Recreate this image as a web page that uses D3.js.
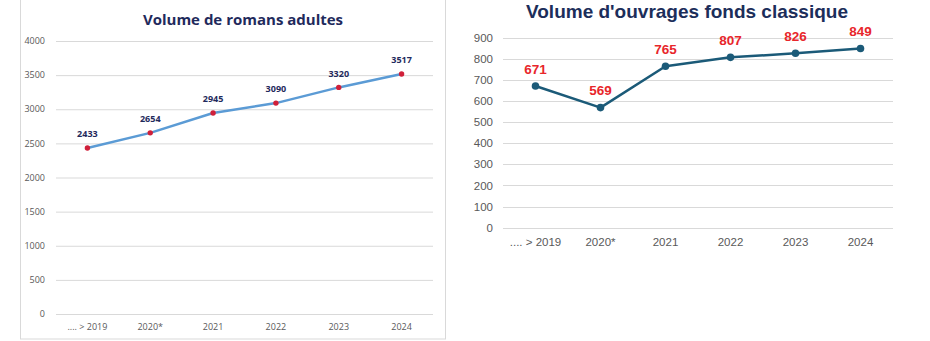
<!DOCTYPE html>
<html><head><meta charset="utf-8">
<script src="https://cdn.jsdelivr.net/npm/d3@7"></script>
<style>body{margin:0;background:#fff}svg{display:block}</style>
</head><body>
<svg id="c" width="930" height="341"></svg>
<script>
const categories = [".... > 2019", "2020*", "2021", "2022", "2023", "2024"];
const romansValues = [2433, 2654, 2945, 3090, 3320, 3517];
const classiqueValues = [671, 569, 765, 807, 826, 849];
const romansTicks = [0, 500, 1000, 1500, 2000, 2500, 3000, 3500, 4000];
const classiqueTicks = [0, 100, 200, 300, 400, 500, 600, 700, 800, 900];
const romansTitle = "Volume de romans adultes";
const classiqueTitle = "Volume d'ouvrages fonds classique";

const svg = d3.select("#c");

// ---------- Left chart ----------
svg.append("rect").attr("x", 20.5).attr("y", -1).attr("width", 425).attr("height", 340)
  .attr("fill", "#fff").attr("stroke", "#d9d9d9");

const L = {x0: 56, x1: 433, y0: 314, y1: 41};
const xL = d3.scalePoint().domain(categories).range([L.x0, L.x1]).padding(0.5);
const yL = d3.scaleLinear().domain([0, 4000]).range([L.y0, L.y1]);
const gL = svg.append("g");

gL.append("g").selectAll("line").data(romansTicks).join("line")
  .attr("x1", L.x0).attr("x2", L.x1).attr("y1", d => yL(d) + 0.5).attr("y2", d => yL(d) + 0.5)
  .attr("stroke", "#d9d9d9").attr("stroke-width", 1);
gL.append("g").selectAll("text").data(romansTicks).join("text")
  .attr("x", 45).attr("y", d => yL(d)).attr("dy", "0.35em").attr("text-anchor", "end")
  .attr("font-family", "'Open Sans', sans-serif").attr("font-size", 9).attr("fill", "#595959")
  .text(d => d);
gL.append("g").selectAll("text").data(categories).join("text")
  .attr("x", d => xL(d)).attr("y", 327).attr("dy", "0.35em").attr("text-anchor", "middle")
  .attr("font-family", "'Open Sans', sans-serif").attr("font-size", 9).attr("fill", "#595959")
  .text(d => d);
gL.append("text").attr("x", 243).attr("y", 20).attr("dy", "0.35em").attr("text-anchor", "middle")
  .attr("font-family", "'Open Sans', sans-serif").attr("font-weight", "bold").attr("font-size", 15)
  .attr("fill", "#1f2a5c").text(romansTitle);
gL.append("path").datum(romansValues)
  .attr("d", d3.line().x((d, i) => xL(categories[i])).y(d => yL(d)))
  .attr("fill", "none").attr("stroke", "#5b9bd5").attr("stroke-width", 2.5).attr("stroke-linejoin", "round");
gL.append("g").selectAll("circle").data(romansValues).join("circle")
  .attr("cx", (d, i) => xL(categories[i])).attr("cy", d => yL(d)).attr("r", 2.7)
  .attr("fill", "#d0203a");
gL.append("g").selectAll("text").data(romansValues).join("text")
  .attr("x", (d, i) => xL(categories[i])).attr("y", d => yL(d) - 14).attr("dy", "0.35em")
  .attr("text-anchor", "middle").attr("font-family", "'Open Sans', sans-serif")
  .attr("font-weight", "bold").attr("font-size", 9).attr("fill", "#1f2a5c").text(d => d);

// ---------- Right chart ----------
const R = {x0: 503, x1: 893, y0: 227.7, y1: 37.7};
const xR = d3.scalePoint().domain(categories).range([R.x0, R.x1]).padding(0.5);
const yR = d3.scaleLinear().domain([0, 900]).range([R.y0, R.y1]);
const gR = svg.append("g");

gR.append("g").selectAll("line").data(classiqueTicks).join("line")
  .attr("x1", R.x0).attr("x2", R.x1).attr("y1", d => Math.round(yR(d)) + 0.5).attr("y2", d => Math.round(yR(d)) + 0.5)
  .attr("stroke", "#d9d9d9").attr("stroke-width", 1);
gR.append("g").selectAll("text").data(classiqueTicks).join("text")
  .attr("x", 493).attr("y", d => yR(d)).attr("dy", "0.35em").attr("text-anchor", "end")
  .attr("font-family", "'Liberation Sans', Arial, sans-serif").attr("font-size", 11.5).attr("fill", "#595959")
  .text(d => d);
gR.append("g").selectAll("text").data(categories).join("text")
  .attr("x", d => xR(d)).attr("y", 242).attr("dy", "0.35em").attr("text-anchor", "middle")
  .attr("font-family", "'Liberation Sans', Arial, sans-serif").attr("font-size", 11.5).attr("fill", "#595959")
  .text(d => d);
gR.append("text").attr("x", 687).attr("y", 11).attr("dy", "0.35em").attr("text-anchor", "middle")
  .attr("font-family", "'Liberation Sans', Arial, sans-serif").attr("font-weight", "bold").attr("font-size", 19)
  .attr("fill", "#1c2e5a").text(classiqueTitle);
gR.append("path").datum(classiqueValues)
  .attr("d", d3.line().x((d, i) => xR(categories[i])).y(d => yR(d)))
  .attr("fill", "none").attr("stroke", "#1b5a78").attr("stroke-width", 2.5).attr("stroke-linejoin", "round");
gR.append("g").selectAll("circle").data(classiqueValues).join("circle")
  .attr("cx", (d, i) => xR(categories[i])).attr("cy", d => yR(d)).attr("r", 3.8)
  .attr("fill", "#1b5a78");
gR.append("g").selectAll("text").data(classiqueValues).join("text")
  .attr("x", (d, i) => xR(categories[i])).attr("y", d => yR(d) - 17).attr("dy", "0.35em")
  .attr("text-anchor", "middle").attr("font-family", "'Liberation Sans', Arial, sans-serif")
  .attr("font-weight", "bold").attr("font-size", 13.5).attr("fill", "#e8262b").text(d => d);
</script>
</body></html>
